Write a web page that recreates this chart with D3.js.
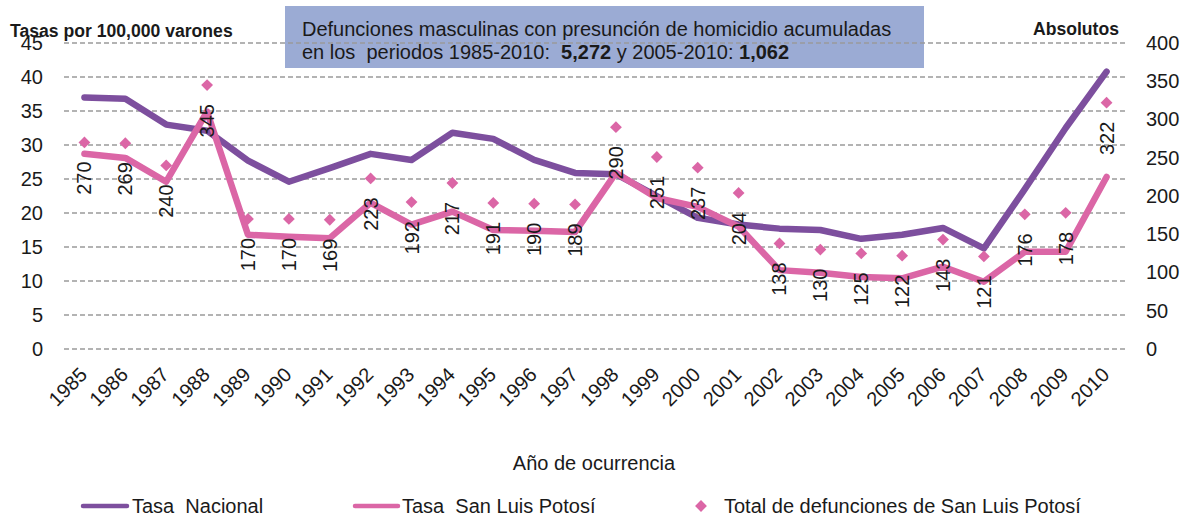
<!DOCTYPE html>
<html>
<head>
<meta charset="utf-8">
<script src="https://cdn.jsdelivr.net/npm/d3@7"></script>
<style>
  body { margin: 0; background: #fff; }
  text { font-family: "Liberation Sans", Arial, sans-serif; fill: #1a1a1a; }
</style>
</head>
<body>
<div class="main"></div>
<script>
// data
var years = ["1985","1986","1987","1988","1989","1990","1991","1992","1993","1994","1995","1996","1997",
             "1998","1999","2000","2001","2002","2003","2004","2005","2006","2007","2008","2009","2010"];
var tasaNacional = [37.0, 36.8, 33.0, 32.1, 27.7, 24.6, 26.6, 28.7, 27.8, 31.8, 30.9, 27.8, 25.9,
                    25.7, 22.5, 19.3, 18.3, 17.7, 17.5, 16.2, 16.8, 17.8, 14.8, 23.5, 32.5, 40.8];
var tasaSLP = [28.7, 28.1, 24.6, 34.9, 16.8, 16.5, 16.3, 21.5, 18.3, 20.2, 17.5, 17.4, 17.2,
               25.9, 22.2, 20.9, 18.0, 11.6, 11.2, 10.6, 10.4, 12.1, 9.9, 14.3, 14.3, 25.3];
var totalSLP = [270, 269, 240, 345, 170, 170, 169, 223, 192, 217, 191, 190, 189,
                290, 251, 237, 204, 138, 130, 125, 122, 143, 121, 176, 178, 322];
var leftTicks = [0, 5, 10, 15, 20, 25, 30, 35, 40, 45];
var rightTicks = [0, 50, 100, 150, 200, 250, 300, 350, 400];

var width = 1182, height = 516;
var purple = "#7d4f9e", pink = "#db66a6";
var fs = "20px";

var svg = d3.select("div.main").append("svg")
    .attr("width", width)
    .attr("height", height)

var x = d3.scaleBand().domain(years).range([64, 1127]);
var cx = function (d) { return x(d) + x.bandwidth() / 2 }
var yL = d3.scaleLinear().domain([0, 45]).range([349, 43]);
var yR = d3.scaleLinear().domain([0, 400]).range([349, 43]);

// title box
svg.append("rect").attr("x", 285).attr("y", 6).attr("width", 639).attr("height", 62).attr("fill", "#9babd4")
var tt = svg.append("text").attr("x", 302).attr("y", 36).style("font-size", fs)
tt.append("tspan").text("Defunciones masculinas con presunción de homicidio acumuladas")
var t2 = svg.append("text").attr("x", 302).attr("y", 59).style("font-size", fs).attr("xml:space", "preserve")
t2.append("tspan").text("en los  periodos 1985-2010:  ")
t2.append("tspan").style("font-weight", "bold").text("5,272")
t2.append("tspan").text(" y 2005-2010: ")
t2.append("tspan").style("font-weight", "bold").text("1,062")

// gridlines
svg.append("g").selectAll("line").data(leftTicks).enter().append("line")
    .attr("x1", 64).attr("x2", 1127)
    .attr("y1", d => yL(d)).attr("y2", d => yL(d))
    .style("stroke", "#9a9a9a").style("stroke-width", 1.3).style("stroke-dasharray", "5,3")

// axis labels
var axL = svg.append("g").attr("transform", "translate(50,0)")
    .call(d3.axisLeft(yL).tickValues(leftTicks).tickSize(0).tickPadding(7))
axL.select(".domain").remove()
axL.selectAll("text").style("font-size", fs).attr("font-family", null).attr("fill", "#1a1a1a")

var axR = svg.append("g").attr("transform", "translate(1139,0)")
    .call(d3.axisRight(yR).tickValues(rightTicks).tickSize(0).tickPadding(7))
axR.select(".domain").remove()
axR.selectAll("text").style("font-size", fs).attr("font-family", null).attr("fill", "#1a1a1a")

svg.append("text").attr("x", 10).attr("y", 37).style("font-size", "17.6px").style("font-weight", "bold")
    .text("Tasas por 100,000 varones")
svg.append("text").attr("x", 1119).attr("y", 35).attr("text-anchor", "end").style("font-size", "17.6px").style("font-weight", "bold")
    .text("Absolutos")

// year labels
svg.append("g").selectAll("text").data(years).enter().append("text")
    .attr("transform", d => "translate(" + (cx(d) + 4) + ",376) rotate(-45)")
    .attr("text-anchor", "end")
    .style("font-size", fs)
    .text(d => d)

svg.append("text").attr("x", 594).attr("y", 470).attr("text-anchor", "middle").style("font-size", fs)
    .text("Año de ocurrencia")

// lines
var lineN = d3.line().x((d, i) => cx(years[i])).y(d => yL(d))
svg.append("path").datum(tasaNacional).attr("d", lineN)
    .attr("fill", "none").style("stroke", purple).style("stroke-width", 6.5)
    .style("stroke-linejoin", "round").style("stroke-linecap", "round")
svg.append("path").datum(tasaSLP).attr("d", lineN)
    .attr("fill", "none").style("stroke", pink).style("stroke-width", 6.5)
    .style("stroke-linejoin", "round").style("stroke-linecap", "round")

// diamonds
var diamond = d3.symbol().type(d3.symbolSquare).size(70)
svg.append("g").selectAll("path").data(totalSLP).enter().append("path")
    .attr("d", diamond)
    .attr("transform", (d, i) => "translate(" + cx(years[i]) + "," + yR(d) + ") rotate(45)")
    .attr("fill", pink)

// data labels
svg.append("g").selectAll("text").data(totalSLP).enter().append("text")
    .attr("transform", (d, i) => "translate(" + (cx(years[i]) + 7) + "," + (yR(d) + 19) + ") rotate(-90)")
    .attr("text-anchor", "end")
    .style("font-size", fs)
    .text(d => d)

// legend
var lg = svg.append("g")
lg.append("line").attr("x1", 83).attr("x2", 127).attr("y1", 506).attr("y2", 506)
    .style("stroke", purple).style("stroke-width", 4.5).style("stroke-linecap", "round")
lg.append("text").attr("x", 132).attr("y", 513).style("font-size", fs).attr("xml:space", "preserve").text("Tasa  Nacional")
lg.append("line").attr("x1", 355).attr("x2", 398).attr("y1", 506).attr("y2", 506)
    .style("stroke", pink).style("stroke-width", 4.5).style("stroke-linecap", "round")
lg.append("text").attr("x", 402).attr("y", 513).style("font-size", fs).attr("xml:space", "preserve").text("Tasa  San Luis Potosí")
lg.append("path").attr("d", diamond).attr("transform", "translate(701,506) rotate(45)").attr("fill", pink)
lg.append("text").attr("x", 724).attr("y", 513).style("font-size", fs).text("Total de defunciones de San Luis Potosí")
</script>
</body>
</html>
